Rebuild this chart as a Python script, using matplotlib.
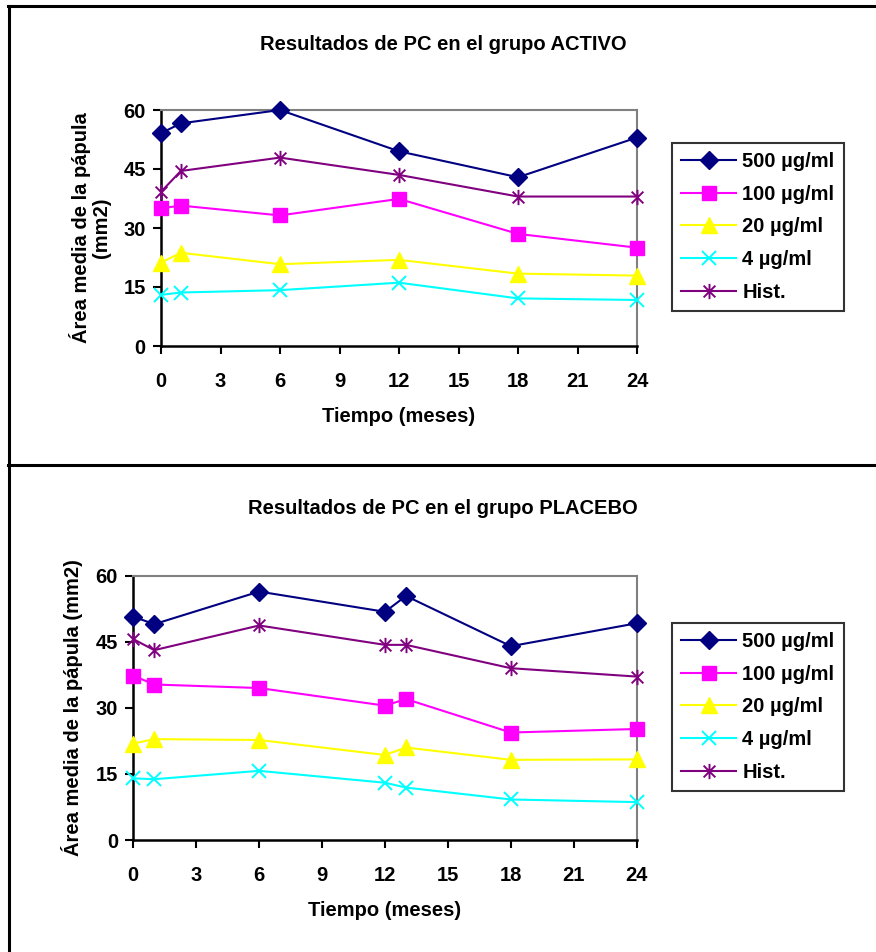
import matplotlib
matplotlib.use("Agg")
import matplotlib.pyplot as plt
from matplotlib.path import Path
from matplotlib.lines import Line2D

plt.rcParams['font.family'] = ['Liberation Sans', 'DejaVu Sans']
plt.rcParams['font.weight'] = 'bold'

# data
series_names = ['500 µg/ml', '100 µg/ml', '20 µg/ml', '4 µg/ml', 'Hist.']

months_activo = [0, 1, 6, 12, 18, 24]
activo_500 = [54.1, 56.6, 60.0, 49.5, 42.9, 53.0]
activo_100 = [35.0, 35.7, 33.2, 37.4, 28.5, 25.0]
activo_20 = [21.2, 23.7, 20.8, 21.9, 18.4, 17.9]
activo_4 = [13.0, 13.6, 14.2, 16.1, 12.1, 11.7]
activo_hist = [39.2, 44.5, 47.9, 43.5, 38.0, 38.0]

months_placebo = [0, 1, 6, 12, 13, 18, 24]
placebo_500 = [50.7, 49.0, 56.4, 51.8, 55.4, 44.0, 49.2]
placebo_100 = [37.3, 35.3, 34.5, 30.5, 32.0, 24.4, 25.2]
placebo_20 = [21.9, 22.9, 22.7, 19.3, 21.0, 18.2, 18.3]
placebo_4 = [14.0, 13.8, 15.7, 13.0, 11.9, 9.2, 8.6]
placebo_hist = [45.6, 43.1, 48.7, 44.3, 44.3, 39.0, 37.1]

x_ticks = [0, 3, 6, 9, 12, 15, 18, 21, 24]
y_ticks = [0, 15, 30, 45, 60]

FS = 14.5

# excel style asterisk: x plus vertical bar
asterisk = Path([(-1, -1), (1, 1), (-1, 1), (1, -1), (0, -1.3), (0, 1.3)],
                [Path.MOVETO, Path.LINETO, Path.MOVETO, Path.LINETO, Path.MOVETO, Path.LINETO])

styles = [
    dict(color='#000080', marker='D', markersize=9, mfc='#000080', mec='#000080'),
    dict(color='#FF00FF', marker='s', markersize=10, mfc='#FF00FF', mec='#FF00FF'),
    dict(color='#FFFF00', marker='^', markersize=11, mfc='#FFFF00', mec='#FFFF00'),
    dict(color='#00FFFF', marker='x', markersize=10, mfc='none', mec='#00FFFF', mew=1.4),
    dict(color='#800080', marker=asterisk, markersize=11, mfc='none', mec='#800080', mew=1.4),
]

fig = plt.figure(figsize=(8.76, 9.52), dpi=100)

# panel borders
W, H = 876, 952
fig.add_artist(Line2D([8 / W, 1], [1 - 6 / H, 1 - 6 / H], color='black', lw=2.2))
fig.add_artist(Line2D([9 / W, 9 / W], [0, 1 - 6 / H], color='black', lw=2.2))
fig.add_artist(Line2D([8 / W, 1], [1 - 465 / H, 1 - 465 / H], color='black', lw=2.2))


def draw_panel(rect, months, values, title, ylabel, title_y, legend_top):
    ax = fig.add_axes(rect)
    for name, vals, st in zip(series_names, values, styles):
        ax.plot(months, vals, lw=1.5, label=name, clip_on=False, zorder=3, **st)
    ax.set_xlim(0, 24)
    ax.set_ylim(0, 60)
    ax.set_xticks(x_ticks)
    ax.set_yticks(y_ticks)
    ax.tick_params(direction='out', length=6, width=1.5, labelsize=FS, color='black')
    ax.tick_params(axis='x', pad=13)
    ax.tick_params(axis='y', pad=5)
    for lab in ax.get_xticklabels() + ax.get_yticklabels():
        lab.set_fontweight('bold')
    ax.spines['left'].set_linewidth(1.8)
    ax.spines['bottom'].set_linewidth(1.8)
    ax.spines['top'].set_color('#808080')
    ax.spines['right'].set_color('#808080')
    ax.spines['top'].set_linewidth(1.5)
    ax.spines['right'].set_linewidth(1.5)
    ax.set_xlabel('Tiempo (meses)', fontsize=FS, fontweight='bold', labelpad=11)
    ax.set_ylabel(ylabel, fontsize=FS, fontweight='bold', labelpad=9, linespacing=1.05)
    fig.text(443 / W, 1 - title_y / H, title, ha='center', va='center',
             fontsize=FS, fontweight='bold')
    leg = ax.legend(loc='upper left', bbox_to_anchor=(672 / W, 1 - legend_top / H),
                    bbox_transform=fig.transFigure, borderaxespad=0,
                    frameon=True, fancybox=False, edgecolor='black', fontsize=FS,
                    handlelength=2.75, labelspacing=0.68, borderpad=0.45, handletextpad=0.3)
    leg.get_frame().set_linewidth(1.5)
    for t in leg.get_texts():
        t.set_fontweight('bold')
    return ax


draw_panel([161 / W, 1 - 346 / H, 476 / W, 236 / H], months_activo,
           [activo_500, activo_100, activo_20, activo_4, activo_hist],
           'Resultados de PC en el grupo ACTIVO', 'Área media de la pápula\n(mm2)',
           45, 143)

draw_panel([133.3 / W, 1 - 840 / H, 503.4 / W, 264.3 / H], months_placebo,
           [placebo_500, placebo_100, placebo_20, placebo_4, placebo_hist],
           'Resultados de PC en el grupo PLACEBO', 'Área media de la pápula (mm2)',
           508, 623)

fig.savefig('out.png', dpi=100)
